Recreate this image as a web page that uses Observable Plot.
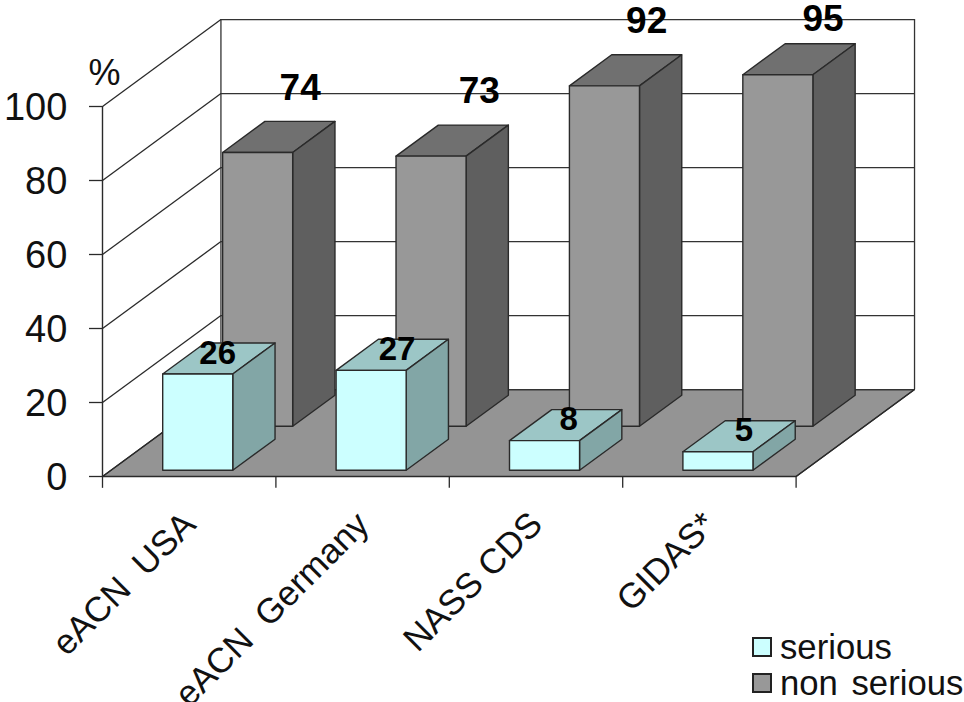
<!DOCTYPE html>
<html>
<head>
<meta charset="utf-8">
<script src="https://cdn.jsdelivr.net/npm/d3@7"></script>
<script src="https://cdn.jsdelivr.net/npm/@observablehq/plot@0.6"></script>
<style>
  html, body { margin: 0; background: #fff; }
  #chart { position: relative; width: 964px; height: 702px; overflow: hidden; font-family: "Liberation Sans", Arial, sans-serif; }
  .legend { position: absolute; left: 752px; top: 629px; font-size: 34.7px; color: #111; white-space: pre; word-spacing: 4px; }
  .legend div { display: flex; align-items: center; height: 36px; }
  .legend i { display: block; box-sizing: border-box; width: 20px; height: 20px; border: 2px solid #222; margin-right: 8px; }
</style>
</head>
<body>
<div id="chart"></div>
<script>
// Share of crashes by severity in each data source
const categories = ["eACN  USA", "eACN  Germany", "NASS CDS", "GIDAS*"];
const serious = [26, 27, 8, 5];
const nonSerious = [74, 73, 92, 95];
const yTicks = [0, 20, 40, 60, 80, 100];
const xTicks = [0, 1, 2, 3, 4];

// Oblique projection: depth 0 is the front of the floor, depth 1 the back wall
const depthX = 0.683;
const depthY = 23.5;
const barInset = 0.298;
const barWidth = 0.404;
const pt = (x, y, depth) => ({x: x + depth * depthX, y: y + depth * depthY});
const poly = (points) => [...points, points[0]];

const ink = "#2a2a2a";
const face = (points, fill, strokeWidth = 1.4) =>
  Plot.line(poly(points), {x: "x", y: "y", fill, stroke: ink, strokeWidth, strokeLinejoin: "round"});

// One oblong bar as its three visible faces
function bar(i, value, d0, d1, colors) {
  const l = i + barInset, r = l + barWidth;
  return [
    face([pt(l, value, d0), pt(r, value, d0), pt(r, value, d1), pt(l, value, d1)], colors.top),
    face([pt(r, 0, d0), pt(r, value, d0), pt(r, value, d1), pt(r, 0, d1)], colors.side),
    face([pt(l, 0, d0), pt(r, 0, d0), pt(r, value, d0), pt(l, value, d0)], colors.front)
  ];
}

const cyan = {front: "#ccffff", top: "#9cc6c6", side: "#82a6a6"};
const gray = {front: "#989898", top: "#707070", side: "#5f5f5f"};
const n = categories.length;
const textFont = {fontFamily: "Liberation Sans, Arial, sans-serif"};

// Small sideways adjustments of the value labels, in category units
const topLabelShift = [-0.015, 0.018, -0.017, 0];
const lowLabelShift = [-0.03, 0.005, -0.005, 0.005];

const chart = Plot.plot({
  width: 964,
  height: 702,
  margin: 0,
  x: {type: "linear", domain: [-102 / 173.4, 862 / 173.4], range: [0, 964], axis: null},
  y: {type: "linear", domain: [-226 / 3.7, 476 / 3.7], range: [702, 0], axis: null},
  marks: [
    // floor
    face([pt(0, 0, 0), pt(n, 0, 0), pt(n, 0, 1), pt(0, 0, 1)], "#949494", 1.2),

    // left wall and back wall gridlines
    Plot.link(yTicks, {x1: 0, y1: (d) => d, x2: depthX, y2: (d) => d + depthY, stroke: ink, strokeWidth: 1.3}),
    Plot.ruleY(yTicks, {x1: depthX, x2: n + depthX, y: (d) => d + depthY, stroke: "#333", strokeWidth: 1.3}),
    Plot.ruleX([depthX, n + depthX], {y1: depthY, y2: 100 + depthY, stroke: "#333", strokeWidth: 1.3}),
    Plot.link([0], {x1: 0, y1: 0, x2: n, y2: 0, stroke: ink, strokeWidth: 1.6}),
    Plot.link([0], {x1: n, y1: 0, x2: n + depthX, y2: depthY, stroke: ink, strokeWidth: 1.4}),

    // front vertical axis and its ticks
    Plot.ruleX([0], {y1: 0, y2: 100, stroke: ink, strokeWidth: 1.4}),
    Plot.ruleY(yTicks, {x1: -0.075, x2: 0, y: (d) => d, stroke: ink, strokeWidth: 1.3}),
    Plot.ruleX(xTicks, {y1: -3.2, y2: 0, x: (d) => d, stroke: ink, strokeWidth: 1.3}),

    // back row, then front row
    ...nonSerious.flatMap((v, i) => bar(i, v, 0.578, 0.935, gray)),
    ...serious.flatMap((v, i) => bar(i, v, 0.072, 0.429, cyan)),

    // axis labels
    Plot.text(yTicks, {x: -0.203, y: (d) => d, dy: 1.5, text: (d) => String(d), textAnchor: "end", fontSize: 38, fill: "#111", ...textFont}),
    Plot.text(["%"], {x: 0.012, y: 108.8, text: (d) => d, fontSize: 36, fill: "#111", ...textFont}),
    Plot.text(categories, {x: (d, i) => i + 0.502, y: -11.4, text: (d) => d, rotate: -45, textAnchor: "end", fontSize: 35, fill: "#111", ...textFont}),

    // value labels
    Plot.text(nonSerious, {
      x: (d, i) => i + barInset + 0.857 + topLabelShift[i],
      y: (d) => Math.min(d + 0.578 * depthY + 17.5, 123.5),
      text: (d) => String(d), fontSize: 37, fontWeight: "bold", fill: "#000", ...textFont
    }),
    Plot.text(serious, {
      x: (d, i) => i + barInset + 0.396 + lowLabelShift[i],
      y: (d) => d + 0.072 * depthY + 5.7,
      text: (d) => String(d), fontSize: 33, fontWeight: "bold", fill: "#000", ...textFont
    })
  ]
});

const root = document.getElementById("chart");
root.appendChild(chart);

// Legend set over the lower right corner
const legend = document.createElement("div");
legend.className = "legend";
[["serious", "#ccffff"], ["non serious", "#989898"]].forEach(([label, color]) => {
  const row = document.createElement("div");
  const swatch = document.createElement("i");
  swatch.style.background = color;
  row.appendChild(swatch);
  row.appendChild(document.createTextNode(label));
  legend.appendChild(row);
});
root.appendChild(legend);
</script>
</body>
</html>
